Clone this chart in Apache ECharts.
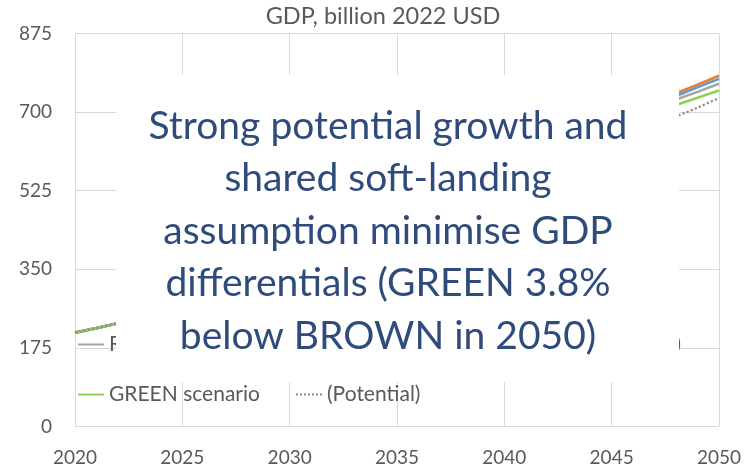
<!DOCTYPE html>
<html>
<head>
<meta charset="utf-8">
<script src="https://cdn.jsdelivr.net/npm/echarts@6/dist/echarts.min.js"></script>
<style>
  html, body { margin: 0; padding: 0; background: #fff; }
  #chart { width: 744px; height: 472px; }
</style>
</head>
<body>
<div id="chart"></div>
<script>
// GDP paths by scenario, billion 2022 USD
const years = [2020, 2021, 2022, 2023, 2024, 2025, 2026, 2027, 2028, 2029,
               2030, 2031, 2032, 2033, 2034, 2035, 2036, 2037, 2038, 2039,
               2040, 2041, 2042, 2043, 2044, 2045, 2046, 2047, 2048, 2049, 2050];

const referenceGdp = [209, 219, 230, 242, 255, 269, 284, 301, 318, 336,
                      355, 375, 395, 416, 437, 459, 481, 503, 525, 548,
                      570, 592, 613, 634, 654, 674, 693, 711, 728, 745, 763];
const brownGdp     = [209, 219, 230, 242, 255, 269, 285, 302, 320, 339,
                      359, 380, 401, 423, 445, 468, 491, 514, 537, 560,
                      583, 605, 627, 648, 669, 689, 708, 725, 742, 761, 781];
const delayedGdp   = [209, 219, 230, 242, 255, 269, 285, 301, 319, 338,
                      357, 377, 398, 419, 441, 463, 486, 509, 532, 555,
                      577, 599, 621, 642, 663, 683, 702, 719, 736, 755, 774];
const greenGdp     = [209, 219, 230, 242, 255, 269, 284, 300, 317, 335,
                      354, 374, 394, 415, 436, 458, 480, 502, 524, 546,
                      567, 588, 609, 629, 649, 668, 685, 701, 716, 732, 748];
const potentialGdp = [209, 219, 230, 241, 253, 266, 280, 295, 311, 328,
                      345, 363, 381, 400, 419, 438, 458, 478, 498, 517,
                      536, 555, 574, 593, 613, 632, 651, 671, 690, 710, 731];

const yTicks = [0, 175, 350, 525, 700, 875];
const xTicks = [2020, 2025, 2030, 2035, 2040, 2045, 2050];

const seriesNames = ['REFERENCE scenario', 'BROWN scenario', 'BLUE (delayed)',
                     'GREEN scenario', '(Potential)'];

const FONT = 'Lato';
const GREY_TEXT = '#595959';

const pairs = vals => years.map((y, i) => [y, vals[i]]);

function lineSeries(name, vals, color, type, z) {
  return {
    name, type: 'line', data: pairs(vals), symbol: 'none', showSymbol: false, z,
    lineStyle: { color, width: type === 'dotted' ? 2.2 : 2.6, type },
    itemStyle: { color }
  };
}

function legendItem(name, pos) {
  return Object.assign({
    data: [name], padding: 0, itemWidth: 26, itemHeight: 14,
    selectedMode: false,
    itemStyle: { opacity: 0 },
    textStyle: { fontFamily: FONT, fontSize: 21, color: GREY_TEXT }
  }, pos);
}

const chart = echarts.init(document.getElementById('chart'), null, { renderer: 'canvas' });

chart.setOption({
  animation: false,
  backgroundColor: '#fff',
  grid: { left: 75, right: 24, top: 33.5, bottom: 45.5 },
  xAxis: {
    type: 'value', min: 2020, max: 2050, interval: 5,
    axisLine: { show: false }, axisTick: { show: false },
    splitLine: { show: true, lineStyle: { color: '#d9d9d9', width: 1 } },
    axisLabel: {
      margin: 22, fontFamily: FONT, fontSize: 19, color: GREY_TEXT,
      formatter: v => xTicks.includes(v) ? String(v) : ''
    }
  },
  yAxis: {
    type: 'value', min: 0, max: 875, interval: 175,
    axisLine: { show: false }, axisTick: { show: false },
    splitLine: { show: true, lineStyle: { color: '#d9d9d9', width: 1 } },
    axisLabel: {
      margin: 23, fontFamily: FONT, fontSize: 19, color: GREY_TEXT,
      formatter: v => yTicks.includes(v) ? String(v) : ''
    }
  },
  legend: [
    legendItem(seriesNames[0], { left: 77, top: 334 }),
    legendItem(seriesNames[1], { left: 295, top: 334 }),
    legendItem(seriesNames[2], { right: 63, top: 334 }),
    legendItem(seriesNames[3], { left: 77, top: 384 }),
    legendItem(seriesNames[4], { left: 295, top: 384 })
  ],
  series: [
    lineSeries(seriesNames[0], referenceGdp, '#a5a5a5', 'solid', 2),
    lineSeries(seriesNames[1], brownGdp, '#ed7d31', 'solid', 2),
    lineSeries(seriesNames[2], delayedGdp, '#5b9bd5', 'solid', 2),
    lineSeries(seriesNames[3], greenGdp, '#92d050', 'solid', 3),
    lineSeries(seriesNames[4], potentialGdp, '#8c8c8c', 'dotted', 4)
  ],
  title: {
    text: 'GDP, billion 2022 USD', left: 383, top: 4, textAlign: 'center', padding: 0,
    textStyle: { fontFamily: FONT, fontSize: 23.5, fontWeight: 'normal', color: GREY_TEXT }
  },
  graphic: [
    {
      type: 'rect', z: 100,
      shape: { x: 116, y: 75, width: 563, height: 307 },
      style: { fill: '#ffffff' }
    },
    {
      type: 'text', x: 388, y: 231, z: 101,
      style: {
        text: 'Strong potential growth and\nshared soft-landing\nassumption minimise GDP\ndifferentials (GREEN 3.8%\nbelow BROWN in 2050)',
        fontFamily: FONT, fontSize: 39, lineHeight: 52.5,
        fill: '#2f4b7c', align: 'center', verticalAlign: 'middle'
      }
    }
  ]
});
</script>
</body>
</html>
